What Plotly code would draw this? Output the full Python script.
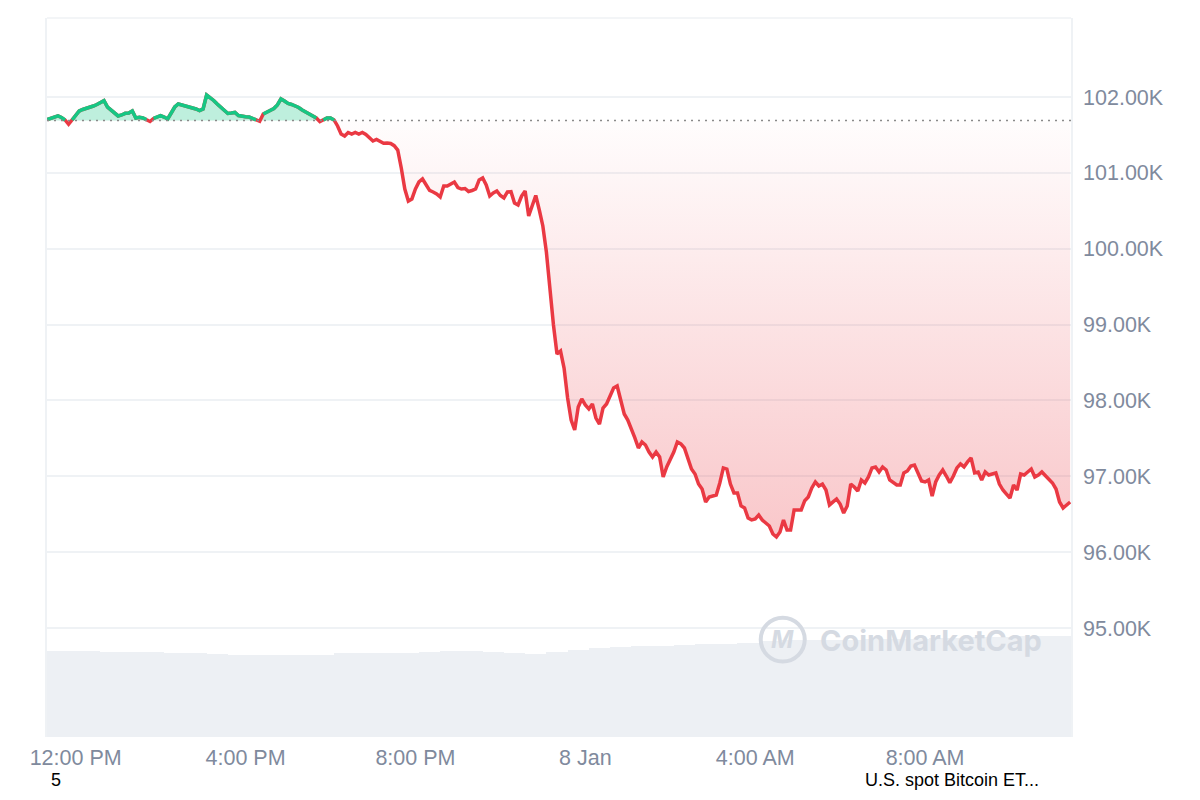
import plotly.graph_objects as go
import pandas as pd
import numpy as np

# BTC price, 5-minute steps from 11:20 AM 7 Jan 2025
start_time = "2025-01-07 11:20"
prices = [
    101703, 101717, 101736, 101750, 101730, 101697, 101640, 101697, 101763, 101815,
    101835, 101848, 101862, 101881, 101901, 101928, 101951, 101868, 101829, 101796,
    101750, 101763, 101785, 101789, 101815, 101723, 101732, 101723, 101703, 101677,
    101717, 101740, 101754, 101736, 101710, 101789, 101868, 101908, 101895, 101881,
    101875, 101862, 101842, 101822, 101842, 102026, 101993, 101954, 101908, 101868,
    101829, 101783, 101789, 101796, 101756, 101743, 101740, 101736, 101717, 101697,
    101680, 101776, 101802, 101822, 101848, 101895, 101974, 101947, 101914, 101901,
    101885, 101862, 101829, 101802, 101783, 101756, 101723, 101675, 101697, 101723,
    101723, 101697, 101618, 101512, 101486, 101532, 101512, 101532, 101512, 101532,
    101506, 101460, 101420, 101440, 101413, 101390, 101394, 101387, 101358, 101301,
    101064, 100787, 100629, 100656, 100787, 100880, 100919, 100840, 100768, 100748,
    100722, 100682, 100827, 100827, 100853, 100880, 100807, 100787, 100794, 100755,
    100768, 100787, 100906, 100932, 100840, 100695, 100735, 100761, 100702, 100669,
    100748, 100752, 100603, 100577, 100695, 100761, 100432, 100577, 100702, 100511,
    100300, 99957, 99456, 98995, 98613, 98652, 98428, 98033, 97743, 97611,
    97914, 98020, 97941, 97888, 97954, 97769, 97690, 97901, 97954, 98059,
    98165, 98191, 97993, 97822, 97743, 97637, 97506, 97374, 97453, 97413,
    97321, 97255, 97321, 97255, 96992, 97124, 97216, 97321, 97453, 97427,
    97374, 97242, 97097, 97031, 96899, 96833, 96662, 96728, 96741, 96754,
    96913, 97111, 97097, 96899, 96781, 96781, 96610, 96583, 96451, 96425,
    96438, 96491, 96425, 96392, 96346, 96240, 96201, 96267, 96425, 96293,
    96293, 96557, 96557, 96557, 96679, 96728, 96847, 96926, 96873, 96899,
    96820, 96623, 96663, 96702, 96636, 96517, 96610, 96899, 96860, 96807,
    96952, 96913, 96992, 97111, 97124, 97058, 97124, 97084, 96952, 96913,
    96886, 96886, 97045, 97071, 97137, 97150, 97031, 96939, 96926, 96952,
    96741, 96926, 97018, 97084, 97005, 96917, 97005, 97111, 97163, 97124,
    97190, 97242, 97045, 97058, 96952, 97058, 97018, 97031, 97045, 96899,
    96820, 96767, 96715, 96886, 96820, 97031, 97018, 97058, 97097, 96992,
    97018, 97058, 97005, 96966, 96913, 96833, 96662, 96583, 96623, 96662,
]
open_price = 101690  # price 24h ago (dotted reference line)

# volume ($B), 30-minute steps
volume = [
    55.9, 55.9, 55.9, 55.6, 55.6, 55.3, 54.9, 54.9, 54.3, 53.6,
    53.6, 53.6, 53.6, 53.6, 54.6, 54.6, 54.9, 54.9, 55.6, 55.9,
    55.9, 55.6, 54.9, 54.3, 55.6, 57.2, 58.2, 58.9, 59.5, 59.8,
    60.2, 60.5, 60.8, 61.5, 62.8, 63.1, 63.4, 63.4, 63.4, 63.8,
    64.1, 64.1, 64.4, 64.7, 65.1, 65.4, 65.7, 66.1, 66.1,
]

tick_times = ["2025-01-07 12:00", "2025-01-07 16:00", "2025-01-07 20:00",
              "2025-01-08 00:00", "2025-01-08 04:00", "2025-01-08 08:00"]
tick_labels = ["12:00 PM", "4:00 PM", "8:00 PM", "8 Jan", "4:00 AM", "8:00 AM"]
price_ticks = [95000, 96000, 97000, 98000, 99000, 100000, 101000, 102000]
price_labels = ["95.00K", "96.00K", "97.00K", "98.00K", "99.00K", "100.00K", "101.00K", "102.00K"]

times = pd.date_range(start_time, periods=len(prices), freq="5min")
vol_times = pd.date_range(start_time, periods=len(volume), freq="30min")
p = np.array(prices, dtype=float)
base = np.full(len(p), open_price)
green = "#16c784"
red = "#ea3943"
grey_txt = "#808a9d"
grid = "#eff2f5"
mark = "#d5dae2"

fig = go.Figure()

# volume bars in the bottom strip
fig.add_trace(go.Bar(x=vol_times, y=volume, yaxis="y2", marker=dict(color="#edf0f4", line_width=0),
                     hoverinfo="skip", showlegend=False))

# green area above the open price
fig.add_trace(go.Scatter(x=times, y=base, mode="lines", line=dict(width=0), hoverinfo="skip", showlegend=False))
fig.add_trace(go.Scatter(x=times, y=np.maximum(p, base), mode="lines", line=dict(width=0),
                         fill="tonexty", fillcolor="rgba(22,199,132,0.28)", hoverinfo="skip", showlegend=False))
# red area below the open price, fading toward the reference line
fig.add_trace(go.Scatter(x=times, y=base, mode="lines", line=dict(width=0), hoverinfo="skip", showlegend=False))
fig.add_trace(go.Scatter(x=times, y=np.minimum(p, base), mode="lines", line=dict(width=0),
                         fill="tonexty",
                         fillgradient=dict(type="vertical", start=p.min(), stop=open_price,
                                           colorscale=[[0, "rgba(234,57,67,0.28)"], [1, "rgba(234,57,67,0.01)"]]),
                         hoverinfo="skip", showlegend=False))

# price line: red everywhere, green where above the open
fig.add_trace(go.Scatter(x=times, y=p, mode="lines", line=dict(color=red, width=3.5), showlegend=False))
fig.add_trace(go.Scatter(x=times, y=np.where(p >= base, p, None), mode="lines",
                         line=dict(color=green, width=3.5), connectgaps=False, showlegend=False))

# dotted open-price line
fig.add_shape(type="line", xref="paper", x0=0, x1=1, y0=open_price, y1=open_price,
              line=dict(color="#8a8a8a", width=1.5, dash="2px,5px"))
# top frame line
fig.add_shape(type="line", xref="paper", yref="paper", x0=0, x1=1, y0=1, y1=1,
              line=dict(color=grid, width=1.5))

# watermark
fig.add_shape(type="circle", xref="paper", yref="paper", x0=0.697, x1=0.740, y0=0.105, y1=0.166,
              line=dict(color=mark, width=4))
fig.add_annotation(x=0.7185, y=0.1355, xref="paper", yref="paper", xanchor="center", yanchor="middle",
                   text="<i><b>M</b></i>", showarrow=False,
                   font=dict(family="Inter", size=24, color=mark))
fig.add_annotation(x=0.8635, y=0.1345, xref="paper", yref="paper", xanchor="center", yanchor="middle",
                   text="<b>CoinMarketCap</b>", showarrow=False,
                   font=dict(family="Inter", size=29, color=mark))

# event labels under the axis (kept inside the figure's bottom edge)
fig.add_annotation(x=0.0088, y=-0.0597, xref="paper", yref="paper", xanchor="center", yanchor="middle",
                   text="5", showarrow=False, borderpad=0,
                   font=dict(family="Liberation Sans", size=18, color="#000000"))
fig.add_annotation(x=0.884, y=-0.0597, xref="paper", yref="paper", xanchor="center", yanchor="middle",
                   text="U.S. spot Bitcoin ET...", showarrow=False, borderpad=0,
                   font=dict(family="Liberation Sans", size=18, color="#000000"))

# page body keeps an 8px margin, so the figure is sized to fit inside it
fig.update_layout(
    width=1184, height=784,
    margin=dict(l=39, r=121, t=10, b=55),
    paper_bgcolor="white", plot_bgcolor="white",
    font=dict(family="Liberation Sans", size=21.5, color=grey_txt),
    bargap=0,
    xaxis=dict(range=["2025-01-07 11:19:30", "2025-01-08 11:26:10"], tickvals=tick_times, ticktext=tick_labels,
               showgrid=False, zeroline=False, showline=False, ticks="", ticklabelstandoff=5),
    yaxis=dict(side="right", range=[93565, 103041], tickvals=price_ticks, ticktext=price_labels,
               showgrid=True, gridcolor=grid, gridwidth=1.5, zeroline=False,
               showline=True, mirror=True, linecolor=grid, linewidth=1.5, ticks="", ticklabelstandoff=6),
    yaxis2=dict(overlaying="y", range=[0, 470], visible=False),
)

fig.write_html("out.html")
